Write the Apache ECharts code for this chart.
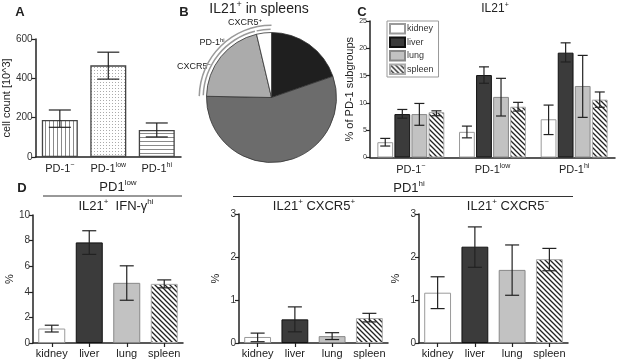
<!DOCTYPE html>
<html>
<head>
<meta charset="utf-8">
<script src="https://cdn.jsdelivr.net/npm/echarts@6/dist/echarts.min.js"></script>
<style>
  body { margin: 0; background: #fff; }
  #main { width: 617px; height: 361px; }
</style>
</head>
<body>
<div id="main"></div>
<script>
// panel A: cell counts
const countCats = ["PD-1⁻", "PD-1low", "PD-1hi"];
const countMean = [188, 466, 137];
const countLow = [151, 396, 102];
const countHigh = [239, 533, 173];

// panel B: IL21+ in spleens (share of slice, %)
const pieNames = ["PD-1⁻", "PD-1low", "CXCR5⁻", "CXCR5⁺"];
const pieValues = [19.7, 55.6, 21.0, 3.7];

// panel C: % of PD-1 subgroups
const subgroups = ["PD-1⁻", "PD-1low", "PD-1hi"];
const organs = ["kidney", "liver", "lung", "spleen"];
const kidneyMean = [2.8, 4.7, 7.0];
const kidneyLow = [2.1, 3.6, 4.2];
const kidneyHigh = [3.5, 5.75, 9.6];
const liverMean = [7.95, 15.1, 19.2];
const liverLow = [7.2, 13.6, 17.5];
const liverHigh = [8.8, 16.6, 21.0];
const lungMean = [7.95, 11.1, 13.1];
const lungLow = [5.9, 7.6, 7.35];
const lungHigh = [9.9, 14.5, 18.7];
const spleenMean = [8.3, 9.3, 10.6];
const spleenLow = [7.65, 8.5, 9.2];
const spleenHigh = [8.55, 10.1, 12.0];

// panel D: % per organ
const ifnMean = [1.13, 7.86, 4.7, 4.62];
const ifnLow = [0.86, 6.92, 3.34, 4.31];
const ifnHigh = [1.39, 8.77, 6.03, 4.93];
const posMean = [0.14, 0.55, 0.16, 0.58];
const posLow = [0.03, 0.26, 0.08, 0.49];
const posHigh = [0.23, 0.84, 0.24, 0.69];
const negMean = [1.17, 2.24, 1.70, 1.95];
const negLow = [0.80, 1.76, 1.11, 1.68];
const negHigh = [1.54, 2.70, 2.28, 2.20];

const FONT = "Liberation Sans, Arial, sans-serif";

function makePattern(kind) {
    let c = document.createElement("canvas");
    let s = kind === "diag" ? 5 : kind === "dots" ? 3 : 4;
    c.width = s;
    c.height = s;
    let g = c.getContext("2d");
    g.fillStyle = "#fff";
    g.fillRect(0, 0, s, s);
    g.strokeStyle = kind === "diag" ? "#222" : "#8a8a8a";
    g.lineWidth = kind === "diag" ? 1.3 : 1;
    g.beginPath();
    if (kind === "vertical") {
        g.moveTo(1.5, 0);
        g.lineTo(1.5, s);
    } else if (kind === "horizontal") {
        g.moveTo(0, 1.5);
        g.lineTo(s, 1.5);
    } else if (kind === "diag") {
        g.moveTo(-1, -1);
        g.lineTo(s + 1, s + 1);
        g.moveTo(-1, s - 1);
        g.lineTo(1, s + 1);
        g.moveTo(s - 1, -1);
        g.lineTo(s + 1, 1);
    }
    g.stroke();
    if (kind === "dots") {
        g.fillStyle = "#aaa";
        g.fillRect(1, 1, 1, 1);
    }
    return { image: c, repeat: "repeat" };
}

const organStyle = {
    kidney: { color: "#fff", borderColor: "#9a9a9a", borderWidth: 1 },
    liver: { color: "#3b3b3b", borderColor: "#111", borderWidth: 1 },
    lung: { color: "#c2c2c2", borderColor: "#888", borderWidth: 1 },
    spleen: { color: makePattern("diag"), borderColor: "#aaa", borderWidth: 1 },
};

// rich text with superscripts: parts = [[base, sup], ...]
const rich = function (size, color, bold) {
    return {
        b: { fontSize: size, fontFamily: FONT, color: color, fontWeight: bold ? "bold" : "normal", lineHeight: size + 3 },
        s: { fontSize: Math.round(size * 0.62), fontFamily: FONT, color: color, verticalAlign: "top", lineHeight: Math.round(size * 0.62) },
    };
};
function rt(parts) {
    return parts.map(function (p) {
        return "{b|" + p[0] + "}" + (p[1] ? "{s|" + p[1] + "}" : "");
    }).join("");
}
function pdLabel(v) {
    let sup = v.slice(4);
    if (sup === "⁻") sup = "−";
    return rt([["PD-1", sup]]);
}

function text(x, y, str, size, opts) {
    opts = opts || {};
    return {
        type: "text", x: x, y: y, silent: true,
        style: {
            text: str, fill: opts.color || "#222",
            font: (opts.bold ? "bold " : "") + size + "px " + FONT,
            align: "center", verticalAlign: "middle",
            textAlign: "center", textVerticalAlign: "middle",
            rich: rich(size, opts.color || "#222", opts.bold),
        },
    };
}

function valueAxis(grid, max, interval, name, nameGap, labelSize) {
    return {
        type: "value", gridIndex: grid, min: 0, max: max, interval: interval,
        name: name, nameLocation: "middle", nameGap: nameGap,
        nameTextStyle: { fontSize: 11, fontFamily: FONT, color: "#222" },
        axisLine: { show: true, lineStyle: { color: "#222", width: 1.5 } },
        axisTick: { show: true, length: 4, lineStyle: { color: "#222", width: 1.2 } },
        axisLabel: { fontSize: labelSize, fontFamily: FONT, color: "#333", margin: 3 },
        splitLine: { show: false },
    };
}

function catAxis(grid, data, ticks, formatter) {
    return {
        type: "category", gridIndex: grid, data: data,
        axisLine: { show: true, onZero: false, lineStyle: { color: "#222", width: 1.5 } },
        axisTick: { show: ticks, alignWithLabel: true, interval: 0, length: 4, lineStyle: { color: "#222", width: 1.2 } },
        axisLabel: {
            interval: 0, hideOverlap: false,
            margin: 5, fontSize: 11, fontFamily: FONT, color: "#222",
            formatter: formatter, rich: rich(11, "#222", false),
        },
    };
}

function errorSeries(grid, low, high, capHalf, slot, slots, catGap, barGap) {
    return {
        type: "custom", xAxisIndex: grid, yAxisIndex: grid, z: 5, silent: true,
        data: low.map(function (v, i) { return [i, v, high[i]]; }),
        encode: { x: 0, y: [1, 2] },
        renderItem: function (params, api) {
            let cat = api.value(0);
            let lo = api.coord([cat, api.value(1)]);
            let hi = api.coord([cat, api.value(2)]);
            let x = lo[0];
            if (slots > 1) {
                let w = api.size([1, 0])[0];
                let bw = (w * (1 - catGap)) / (slots + (slots - 1) * barGap);
                x += -(w * (1 - catGap)) / 2 + bw / 2 + slot * bw * (1 + barGap);
            }
            let st = { stroke: "#222", lineWidth: 1.2 };
            return {
                type: "group",
                children: [
                    { type: "line", shape: { x1: x, y1: lo[1], x2: x, y2: hi[1] }, style: st },
                    { type: "line", shape: { x1: x - capHalf, y1: lo[1], x2: x + capHalf, y2: lo[1] }, style: st },
                    { type: "line", shape: { x1: x - capHalf, y1: hi[1], x2: x + capHalf, y2: hi[1] }, style: st },
                ],
            };
        },
    };
}

function organBars(grid, name, values) {
    return {
        type: "bar", name: name, xAxisIndex: grid, yAxisIndex: grid,
        barCategoryGap: "28%", silent: true,
        data: values.map(function (v, i) {
            return { value: v, itemStyle: organStyle[organs[i]] };
        }),
    };
}

const chart = echarts.init(document.getElementById("main"));

const countStyles = [makePattern("vertical"), makePattern("dots"), makePattern("horizontal")];
const pieColors = ["#1f1f1f", "#6c6c6c", "#ababab", "#ffffff"];

const cSeries = [];
const cMeans = [kidneyMean, liverMean, lungMean, spleenMean];
const cLows = [kidneyLow, liverLow, lungLow, spleenLow];
const cHighs = [kidneyHigh, liverHigh, lungHigh, spleenHigh];
organs.forEach(function (org, k) {
    cSeries.push({
        type: "bar", name: org, xAxisIndex: 1, yAxisIndex: 1,
        barCategoryGap: "18%", barGap: "8%", silent: true,
        itemStyle: organStyle[org],
        data: cMeans[k],
    });
});
organs.forEach(function (org, k) {
    cSeries.push(errorSeries(1, cLows[k], cHighs[k], 5, k, 4, 0.18, 0.08));
});

// bracket rings around the PD-1hi part of the pie
const hiStart = pieValues[0] + pieValues[1];
const ringBase = {
    type: "pie", center: [271.5, 97.5], startAngle: 90, silent: true,
    label: { show: false }, labelLine: { show: false }, animation: false,
};

chart.setOption({
    animation: false,
    textStyle: { fontFamily: FONT },
    grid: [
        { left: 34, top: 39, width: 147, height: 118 },
        { left: 370, top: 21, width: 245, height: 136.5 },
        { left: 33, top: 215, width: 150, height: 128 },
        { left: 239, top: 214, width: 149, height: 129 },
        { left: 419, top: 214, width: 149, height: 129 },
    ],
    xAxis: [
        catAxis(0, countCats, false, pdLabel),
        catAxis(1, subgroups, false, pdLabel),
        catAxis(2, organs, true),
        catAxis(3, organs, true),
        catAxis(4, organs, true),
    ],
    yAxis: [
        valueAxis(0, 600, 200, "cell count [10^3]", 21, 10),
        valueAxis(1, 25, 5, "% of PD-1 subgroups", 11, 7),
        valueAxis(2, 10, 2, "%", 18, 10),
        valueAxis(3, 3, 1, "%", 18, 10),
        valueAxis(4, 3, 1, "%", 18, 10),
    ],
    legend: {
        data: organs, left: 387, top: 21, orient: "vertical", icon: "rect",
        itemWidth: 15, itemHeight: 9.5, itemGap: 2, padding: [2, 5, 2, 2],
        borderColor: "#999", borderWidth: 1, selectedMode: false,
        textStyle: { fontSize: 9, fontFamily: FONT, color: "#333", padding: [0, 0, 0, -3] },
    },
    series: [
        {
            type: "bar", xAxisIndex: 0, yAxisIndex: 0, barWidth: 36, silent: true,
            data: countMean.map(function (v, i) {
                return { value: v, itemStyle: { color: countStyles[i], borderColor: "#444", borderWidth: 1.3 } };
            }),
        },
        errorSeries(0, countLow, countHigh, 11, 0, 1),
        {
            type: "pie", center: [271.5, 97.5], radius: 65, startAngle: 90, silent: true,
            label: { show: false }, labelLine: { show: false },
            itemStyle: { borderColor: "#333", borderWidth: 0.8 },
            data: pieValues.map(function (v, i) {
                return { name: pieNames[i], value: v, itemStyle: { color: pieColors[i] } };
            }),
        },
        Object.assign({}, ringBase, {
            radius: [67.5, 69], padAngle: 1.5,
            data: pieValues.map(function (v, i) {
                return { value: v, itemStyle: { color: i >= 2 ? "#9a9a9a" : "transparent" } };
            }),
        }),
        Object.assign({}, ringBase, {
            radius: [71.5, 73],
            data: [
                { value: hiStart, itemStyle: { color: "transparent" } },
                { value: pieValues[2] + pieValues[3], itemStyle: { color: "#9a9a9a" } },
            ],
        }),
    ].concat(cSeries, [
        organBars(2, "ifn", ifnMean),
        errorSeries(2, ifnLow, ifnHigh, 7, 0, 1),
        organBars(3, "pos", posMean),
        errorSeries(3, posLow, posHigh, 7, 0, 1),
        organBars(4, "neg", negMean),
        errorSeries(4, negLow, negHigh, 7, 0, 1),
    ]),
    graphic: [
        text(20, 12, rt([["A"]]), 13, { bold: true }),
        text(184, 12, rt([["B"]]), 13, { bold: true }),
        text(362, 12, rt([["C"]]), 13, { bold: true }),
        text(22, 188, rt([["D"]]), 13, { bold: true }),
        text(259, 9, rt([["IL21", "+"], [" in spleens"]]), 14),
        text(245, 23, rt([["CXCR5", "+"]]), 9),
        text(212, 43, rt([["PD-1", "hi"]]), 9),
        text(194, 67, rt([["CXCR5", "−"]]), 9),
        text(325, 42, rt([["PD-1", "−"]]), 9, { color: "#fff" }),
        text(320, 153, rt([["PD-1", "low"]]), 9, { color: "#fff" }),
        text(495, 9, rt([["IL21", "+"]]), 12),
        text(118, 187, rt([["PD1", "low"]]), 13),
        text(116, 206, rt([["IL21", "+"], ["  IFN-γ", "hi"]]), 13),
        text(409, 188, rt([["PD1", "hi"]]), 13),
        text(314, 206, rt([["IL21", "+"], [" CXCR5", "+"]]), 13),
        text(508, 206, rt([["IL21", "+"], [" CXCR5", "−"]]), 13),
        { type: "line", silent: true, shape: { x1: 43, y1: 196, x2: 182, y2: 196 }, style: { stroke: "#333", lineWidth: 1 } },
        { type: "line", silent: true, shape: { x1: 233, y1: 196.5, x2: 573, y2: 196.5 }, style: { stroke: "#333", lineWidth: 1 } },
    ],
});

window.addEventListener("resize", function () {
    chart.resize();
});
</script>
</body>
</html>
